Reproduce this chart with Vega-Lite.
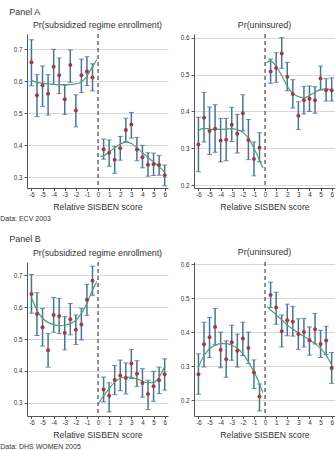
{
"$schema": "https://vega.github.io/schema/vega-lite/v6.json",
"padding": {"left": 0, "top": 7, "right": 0, "bottom": 0},
"config": {
  "font": "Liberation Sans",
  "view": {"stroke": null},
  "axis": {"labelFont": "Liberation Sans", "labelFontSize": 6.3, "labelColor": "#333333", "labelOverlap": false, "domainColor": "#555555", "tickColor": "#555555", "tickSize": 3, "labelPadding": 2, "gridColor": "#d9d9d9", "titleFont": "Liberation Sans", "titleFontSize": 8.7, "titleFontWeight": "normal", "titleColor": "#333333", "titlePadding": 5},
  "title": {"font": "Liberation Sans", "fontSize": 8.8, "fontWeight": "normal", "color": "#333333", "offset": 0}
},
"datasets": {
"pts": [
{"p":"A1","x":-6,"y":0.659,"lo":0.585,"hi":0.729},
{"p":"A1","x":-5.5,"y":0.556,"lo":0.489,"hi":0.620},
{"p":"A1","x":-5,"y":0.587,"lo":0.521,"hi":0.647},
{"p":"A1","x":-4.5,"y":0.560,"lo":0.494,"hi":0.620},
{"p":"A1","x":-4,"y":0.645,"lo":0.589,"hi":0.699},
{"p":"A1","x":-3.5,"y":0.618,"lo":0.561,"hi":0.672},
{"p":"A1","x":-3,"y":0.543,"lo":0.496,"hi":0.587},
{"p":"A1","x":-2.5,"y":0.650,"lo":0.596,"hi":0.697},
{"p":"A1","x":-2,"y":0.508,"lo":0.457,"hi":0.557},
{"p":"A1","x":-1.5,"y":0.618,"lo":0.564,"hi":0.669},
{"p":"A1","x":-1,"y":0.630,"lo":0.586,"hi":0.676},
{"p":"A1","x":-0.5,"y":0.611,"lo":0.569,"hi":0.654},
{"p":"A1","x":0.5,"y":0.387,"lo":0.356,"hi":0.419},
{"p":"A1","x":1,"y":0.376,"lo":0.334,"hi":0.416},
{"p":"A1","x":1.5,"y":0.354,"lo":0.312,"hi":0.396},
{"p":"A1","x":2,"y":0.390,"lo":0.353,"hi":0.427},
{"p":"A1","x":2.5,"y":0.447,"lo":0.411,"hi":0.484},
{"p":"A1","x":3,"y":0.464,"lo":0.422,"hi":0.502},
{"p":"A1","x":3.5,"y":0.386,"lo":0.351,"hi":0.424},
{"p":"A1","x":4,"y":0.362,"lo":0.329,"hi":0.399},
{"p":"A1","x":4.5,"y":0.339,"lo":0.303,"hi":0.376},
{"p":"A1","x":5,"y":0.340,"lo":0.305,"hi":0.375},
{"p":"A1","x":5.5,"y":0.338,"lo":0.306,"hi":0.368},
{"p":"A1","x":6,"y":0.306,"lo":0.273,"hi":0.338},
{"p":"A2","x":-6,"y":0.310,"lo":0.236,"hi":0.384},
{"p":"A2","x":-5.5,"y":0.383,"lo":0.317,"hi":0.451},
{"p":"A2","x":-5,"y":0.347,"lo":0.283,"hi":0.412},
{"p":"A2","x":-4.5,"y":0.353,"lo":0.289,"hi":0.418},
{"p":"A2","x":-4,"y":0.321,"lo":0.263,"hi":0.381},
{"p":"A2","x":-3.5,"y":0.323,"lo":0.266,"hi":0.381},
{"p":"A2","x":-3,"y":0.364,"lo":0.318,"hi":0.411},
{"p":"A2","x":-2.5,"y":0.339,"lo":0.287,"hi":0.392},
{"p":"A2","x":-2,"y":0.395,"lo":0.347,"hi":0.445},
{"p":"A2","x":-1.5,"y":0.322,"lo":0.269,"hi":0.378},
{"p":"A2","x":-1,"y":0.271,"lo":0.225,"hi":0.317},
{"p":"A2","x":-0.5,"y":0.301,"lo":0.263,"hi":0.342},
{"p":"A2","x":0.5,"y":0.508,"lo":0.476,"hi":0.542},
{"p":"A2","x":1,"y":0.518,"lo":0.479,"hi":0.559},
{"p":"A2","x":1.5,"y":0.557,"lo":0.517,"hi":0.600},
{"p":"A2","x":2,"y":0.494,"lo":0.456,"hi":0.533},
{"p":"A2","x":2.5,"y":0.447,"lo":0.409,"hi":0.486},
{"p":"A2","x":3,"y":0.388,"lo":0.351,"hi":0.426},
{"p":"A2","x":3.5,"y":0.430,"lo":0.393,"hi":0.468},
{"p":"A2","x":4,"y":0.434,"lo":0.400,"hi":0.469},
{"p":"A2","x":4.5,"y":0.430,"lo":0.395,"hi":0.467},
{"p":"A2","x":5,"y":0.489,"lo":0.458,"hi":0.523},
{"p":"A2","x":5.5,"y":0.457,"lo":0.428,"hi":0.489},
{"p":"A2","x":6,"y":0.457,"lo":0.428,"hi":0.491},
{"p":"B1","x":-6,"y":0.641,"lo":0.581,"hi":0.702},
{"p":"B1","x":-5.5,"y":0.578,"lo":0.511,"hi":0.645},
{"p":"B1","x":-5,"y":0.537,"lo":0.478,"hi":0.596},
{"p":"B1","x":-4.5,"y":0.465,"lo":0.412,"hi":0.517},
{"p":"B1","x":-4,"y":0.575,"lo":0.521,"hi":0.630},
{"p":"B1","x":-3.5,"y":0.572,"lo":0.517,"hi":0.627},
{"p":"B1","x":-3,"y":0.519,"lo":0.466,"hi":0.570},
{"p":"B1","x":-2.5,"y":0.562,"lo":0.513,"hi":0.611},
{"p":"B1","x":-2,"y":0.529,"lo":0.483,"hi":0.575},
{"p":"B1","x":-1.5,"y":0.545,"lo":0.497,"hi":0.596},
{"p":"B1","x":-1,"y":0.623,"lo":0.574,"hi":0.671},
{"p":"B1","x":-0.5,"y":0.682,"lo":0.637,"hi":0.728},
{"p":"B1","x":0.5,"y":0.342,"lo":0.303,"hi":0.381},
{"p":"B1","x":1,"y":0.322,"lo":0.272,"hi":0.363},
{"p":"B1","x":1.5,"y":0.372,"lo":0.326,"hi":0.417},
{"p":"B1","x":2,"y":0.386,"lo":0.338,"hi":0.434},
{"p":"B1","x":2.5,"y":0.378,"lo":0.328,"hi":0.425},
{"p":"B1","x":3,"y":0.423,"lo":0.376,"hi":0.467},
{"p":"B1","x":3.5,"y":0.391,"lo":0.351,"hi":0.432},
{"p":"B1","x":4,"y":0.362,"lo":0.318,"hi":0.407},
{"p":"B1","x":4.5,"y":0.328,"lo":0.279,"hi":0.371},
{"p":"B1","x":5,"y":0.352,"lo":0.305,"hi":0.399},
{"p":"B1","x":5.5,"y":0.371,"lo":0.329,"hi":0.412},
{"p":"B1","x":6,"y":0.390,"lo":0.340,"hi":0.438},
{"p":"B2","x":-6,"y":0.276,"lo":0.217,"hi":0.336},
{"p":"B2","x":-5.5,"y":0.364,"lo":0.297,"hi":0.429},
{"p":"B2","x":-5,"y":0.385,"lo":0.325,"hi":0.443},
{"p":"B2","x":-4.5,"y":0.415,"lo":0.362,"hi":0.469},
{"p":"B2","x":-4,"y":0.348,"lo":0.295,"hi":0.400},
{"p":"B2","x":-3.5,"y":0.320,"lo":0.267,"hi":0.374},
{"p":"B2","x":-3,"y":0.370,"lo":0.317,"hi":0.420},
{"p":"B2","x":-2.5,"y":0.345,"lo":0.297,"hi":0.394},
{"p":"B2","x":-2,"y":0.381,"lo":0.331,"hi":0.429},
{"p":"B2","x":-1.5,"y":0.353,"lo":0.307,"hi":0.400},
{"p":"B2","x":-1,"y":0.281,"lo":0.234,"hi":0.318},
{"p":"B2","x":-0.5,"y":0.210,"lo":0.168,"hi":0.247},
{"p":"B2","x":0.5,"y":0.509,"lo":0.472,"hi":0.547},
{"p":"B2","x":1,"y":0.472,"lo":0.423,"hi":0.517},
{"p":"B2","x":1.5,"y":0.402,"lo":0.356,"hi":0.450},
{"p":"B2","x":2,"y":0.435,"lo":0.389,"hi":0.482},
{"p":"B2","x":2.5,"y":0.430,"lo":0.388,"hi":0.475},
{"p":"B2","x":3,"y":0.394,"lo":0.349,"hi":0.439},
{"p":"B2","x":3.5,"y":0.400,"lo":0.356,"hi":0.440},
{"p":"B2","x":4,"y":0.376,"lo":0.332,"hi":0.415},
{"p":"B2","x":4.5,"y":0.408,"lo":0.365,"hi":0.455},
{"p":"B2","x":5,"y":0.365,"lo":0.325,"hi":0.405},
{"p":"B2","x":5.5,"y":0.375,"lo":0.334,"hi":0.417},
{"p":"B2","x":6,"y":0.294,"lo":0.249,"hi":0.340}
],
"fit": [
{"p":"A1","s":"L","x":-6,"y":0.602},{"p":"A1","s":"L","x":-5.5,"y":0.596},{"p":"A1","s":"L","x":-5,"y":0.593},{"p":"A1","s":"L","x":-4.5,"y":0.591},{"p":"A1","s":"L","x":-4,"y":0.590},{"p":"A1","s":"L","x":-3.5,"y":0.589},{"p":"A1","s":"L","x":-3,"y":0.589},{"p":"A1","s":"L","x":-2.5,"y":0.589},{"p":"A1","s":"L","x":-2,"y":0.591},{"p":"A1","s":"L","x":-1.5,"y":0.597},{"p":"A1","s":"L","x":-1,"y":0.615},{"p":"A1","s":"L","x":-0.5,"y":0.645},{"p":"A1","s":"L","x":-0.1,"y":0.667},
{"p":"A1","s":"R","x":0.2,"y":0.363},{"p":"A1","s":"R","x":0.5,"y":0.367},{"p":"A1","s":"R","x":1,"y":0.378},{"p":"A1","s":"R","x":1.5,"y":0.392},{"p":"A1","s":"R","x":2,"y":0.403},{"p":"A1","s":"R","x":2.5,"y":0.409},{"p":"A1","s":"R","x":3,"y":0.405},{"p":"A1","s":"R","x":3.5,"y":0.392},{"p":"A1","s":"R","x":4,"y":0.376},{"p":"A1","s":"R","x":4.5,"y":0.361},{"p":"A1","s":"R","x":5,"y":0.347},{"p":"A1","s":"R","x":5.5,"y":0.332},{"p":"A1","s":"R","x":6,"y":0.316},
{"p":"A2","s":"L","x":-6,"y":0.349},{"p":"A2","s":"L","x":-5.5,"y":0.354},{"p":"A2","s":"L","x":-5,"y":0.352},{"p":"A2","s":"L","x":-4.5,"y":0.351},{"p":"A2","s":"L","x":-4,"y":0.351},{"p":"A2","s":"L","x":-3.5,"y":0.352},{"p":"A2","s":"L","x":-3,"y":0.353},{"p":"A2","s":"L","x":-2.5,"y":0.350},{"p":"A2","s":"L","x":-2,"y":0.343},{"p":"A2","s":"L","x":-1.5,"y":0.327},{"p":"A2","s":"L","x":-1,"y":0.300},{"p":"A2","s":"L","x":-0.5,"y":0.268},{"p":"A2","s":"L","x":-0.2,"y":0.246},
{"p":"A2","s":"R","x":0.1,"y":0.532},{"p":"A2","s":"R","x":0.5,"y":0.537},{"p":"A2","s":"R","x":1,"y":0.522},{"p":"A2","s":"R","x":1.5,"y":0.497},{"p":"A2","s":"R","x":2,"y":0.468},{"p":"A2","s":"R","x":2.5,"y":0.449},{"p":"A2","s":"R","x":3,"y":0.440},{"p":"A2","s":"R","x":3.5,"y":0.437},{"p":"A2","s":"R","x":4,"y":0.443},{"p":"A2","s":"R","x":4.5,"y":0.452},{"p":"A2","s":"R","x":5,"y":0.459},{"p":"A2","s":"R","x":5.5,"y":0.461},{"p":"A2","s":"R","x":6,"y":0.458},
{"p":"B1","s":"L","x":-6,"y":0.630},{"p":"B1","s":"L","x":-5.5,"y":0.590},{"p":"B1","s":"L","x":-5,"y":0.565},{"p":"B1","s":"L","x":-4.5,"y":0.552},{"p":"B1","s":"L","x":-4,"y":0.545},{"p":"B1","s":"L","x":-3.5,"y":0.542},{"p":"B1","s":"L","x":-3,"y":0.543},{"p":"B1","s":"L","x":-2.5,"y":0.548},{"p":"B1","s":"L","x":-2,"y":0.559},{"p":"B1","s":"L","x":-1.5,"y":0.580},{"p":"B1","s":"L","x":-1,"y":0.612},{"p":"B1","s":"L","x":-0.5,"y":0.653},{"p":"B1","s":"L","x":-0.1,"y":0.680},
{"p":"B1","s":"R","x":0.1,"y":0.302},{"p":"B1","s":"R","x":0.5,"y":0.322},{"p":"B1","s":"R","x":1,"y":0.345},{"p":"B1","s":"R","x":1.5,"y":0.365},{"p":"B1","s":"R","x":2,"y":0.377},{"p":"B1","s":"R","x":2.5,"y":0.381},{"p":"B1","s":"R","x":3,"y":0.380},{"p":"B1","s":"R","x":3.5,"y":0.375},{"p":"B1","s":"R","x":4,"y":0.368},{"p":"B1","s":"R","x":4.5,"y":0.363},{"p":"B1","s":"R","x":5,"y":0.364},{"p":"B1","s":"R","x":5.5,"y":0.380},{"p":"B1","s":"R","x":6,"y":0.414},
{"p":"B2","s":"L","x":-6,"y":0.297},{"p":"B2","s":"L","x":-5.5,"y":0.331},{"p":"B2","s":"L","x":-5,"y":0.351},{"p":"B2","s":"L","x":-4.5,"y":0.361},{"p":"B2","s":"L","x":-4,"y":0.366},{"p":"B2","s":"L","x":-3.5,"y":0.366},{"p":"B2","s":"L","x":-3,"y":0.361},{"p":"B2","s":"L","x":-2.5,"y":0.352},{"p":"B2","s":"L","x":-2,"y":0.336},{"p":"B2","s":"L","x":-1.5,"y":0.312},{"p":"B2","s":"L","x":-1,"y":0.283},{"p":"B2","s":"L","x":-0.5,"y":0.248},{"p":"B2","s":"L","x":-0.2,"y":0.222},
{"p":"B2","s":"R","x":0.2,"y":0.474},{"p":"B2","s":"R","x":0.5,"y":0.465},{"p":"B2","s":"R","x":1,"y":0.451},{"p":"B2","s":"R","x":1.5,"y":0.436},{"p":"B2","s":"R","x":2,"y":0.421},{"p":"B2","s":"R","x":2.5,"y":0.408},{"p":"B2","s":"R","x":3,"y":0.397},{"p":"B2","s":"R","x":3.5,"y":0.387},{"p":"B2","s":"R","x":4,"y":0.377},{"p":"B2","s":"R","x":4.5,"y":0.366},{"p":"B2","s":"R","x":5,"y":0.352},{"p":"B2","s":"R","x":5.5,"y":0.332},{"p":"B2","s":"R","x":6,"y":0.303}
]
},
"spacing": 13,
"vconcat": [
{"title": {"text": "Data: ECV 2003", "orient": "bottom", "anchor": "start", "frame": "bounds", "fontSize": 7, "offset": 3, "dx": -9},
 "vconcat": [
 {"title": {"text": "Panel A", "anchor": "start", "frame": "bounds", "fontSize": 9, "offset": 4, "dx": -4},
  "bounds": "flush", "spacing": 26,
  "hconcat": [
  {"width": 141, "height": 154, "title": "Pr(subsidized regime enrollment)",
   "layer": [
    {"data": {"values": [{"z": 0}]}, "mark": {"type": "rule", "strokeDash": [4, 3], "color": "#222222", "strokeWidth": 1}, "encoding": {"x": {"field": "z", "type": "quantitative"}}},
    {"data": {"name": "pts"}, "transform": [{"filter": "datum.p === 'A1'"}], "mark": {"type": "errorbar", "ticks": {"size": 5, "color": "#2f5e88", "strokeWidth": 1.2}, "rule": {"color": "#4a7399", "strokeWidth": 1.5}},
     "encoding": {"x": {"field": "x", "type": "quantitative", "scale": {"domain": [-6.4, 6.3], "nice": false, "zero": false}, "axis": {"title": "Relative SISBEN score", "values": [-6,-5,-4,-3,-2,-1,0,1,2,3,4,5,6], "tickCount": 13, "labelOverlap": false, "grid": false, "labelExpr": "replace(datum.label, '\u2212', '-')", "tickSize": 2.5, "labelPadding": 1}},
      "y": {"field": "lo", "type": "quantitative", "scale": {"domain": [0.266, 0.747], "nice": false, "zero": false}, "axis": {"title": null, "values": [0.3, 0.4, 0.5, 0.6, 0.7], "tickCount": 5, "labelOverlap": false, "format": ".1f", "grid": true}}, "y2": {"field": "hi"}}},
    {"data": {"name": "fit"}, "transform": [{"filter": "datum.p === 'A1'"}], "mark": {"type": "line", "interpolate": "monotone", "color": "#4f9f6e", "strokeWidth": 1.2}, "encoding": {"x": {"field": "x", "type": "quantitative"}, "y": {"field": "y", "type": "quantitative"}, "detail": {"field": "s"}}},
    {"data": {"name": "pts"}, "transform": [{"filter": "datum.p === 'A1'"}], "mark": {"type": "circle", "color": "#a33b3b", "size": 16, "opacity": 1}, "encoding": {"x": {"field": "x", "type": "quantitative"}, "y": {"field": "y", "type": "quantitative"}}}
   ]},
  {"width": 141, "height": 154, "title": "Pr(uninsured)",
   "layer": [
    {"data": {"values": [{"z": 0}]}, "mark": {"type": "rule", "strokeDash": [4, 3], "color": "#222222", "strokeWidth": 1}, "encoding": {"x": {"field": "z", "type": "quantitative"}}},
    {"data": {"name": "pts"}, "transform": [{"filter": "datum.p === 'A2'"}], "mark": {"type": "errorbar", "ticks": {"size": 5, "color": "#2f5e88", "strokeWidth": 1.2}, "rule": {"color": "#4a7399", "strokeWidth": 1.5}},
     "encoding": {"x": {"field": "x", "type": "quantitative", "scale": {"domain": [-6.4, 6.3], "nice": false, "zero": false}, "axis": {"title": "Relative SISBEN score", "values": [-6,-5,-4,-3,-2,-1,0,1,2,3,4,5,6], "tickCount": 13, "labelOverlap": false, "grid": false, "labelExpr": "replace(datum.label, '\u2212', '-')", "tickSize": 2.5, "labelPadding": 1}},
      "y": {"field": "lo", "type": "quantitative", "scale": {"domain": [0.192, 0.610], "nice": false, "zero": false}, "axis": {"title": null, "values": [0.2, 0.3, 0.4, 0.5, 0.6], "tickCount": 5, "labelOverlap": false, "format": ".1f", "grid": true}}, "y2": {"field": "hi"}}},
    {"data": {"name": "fit"}, "transform": [{"filter": "datum.p === 'A2'"}], "mark": {"type": "line", "interpolate": "monotone", "color": "#4f9f6e", "strokeWidth": 1.2}, "encoding": {"x": {"field": "x", "type": "quantitative"}, "y": {"field": "y", "type": "quantitative"}, "detail": {"field": "s"}}},
    {"data": {"name": "pts"}, "transform": [{"filter": "datum.p === 'A2'"}], "mark": {"type": "circle", "color": "#a33b3b", "size": 16, "opacity": 1}, "encoding": {"x": {"field": "x", "type": "quantitative"}, "y": {"field": "y", "type": "quantitative"}}}
   ]}
  ]}
 ]},
{"title": {"text": "Data: DHS WOMEN 2005", "orient": "bottom", "anchor": "start", "frame": "bounds", "fontSize": 7, "offset": 3, "dx": -9},
 "vconcat": [
 {"title": {"text": "Panel B", "anchor": "start", "frame": "bounds", "fontSize": 9, "offset": 4, "dx": -4},
  "bounds": "flush", "spacing": 26,
  "hconcat": [
  {"width": 141, "height": 154, "title": "Pr(subsidized regime enrollment)",
   "layer": [
    {"data": {"values": [{"z": 0}]}, "mark": {"type": "rule", "strokeDash": [4, 3], "color": "#222222", "strokeWidth": 1}, "encoding": {"x": {"field": "z", "type": "quantitative"}}},
    {"data": {"name": "pts"}, "transform": [{"filter": "datum.p === 'B1'"}], "mark": {"type": "errorbar", "ticks": {"size": 5, "color": "#2f5e88", "strokeWidth": 1.2}, "rule": {"color": "#4a7399", "strokeWidth": 1.5}},
     "encoding": {"x": {"field": "x", "type": "quantitative", "scale": {"domain": [-6.4, 6.3], "nice": false, "zero": false}, "axis": {"title": "Relative SISBEN score", "values": [-6,-5,-4,-3,-2,-1,0,1,2,3,4,5,6], "tickCount": 13, "labelOverlap": false, "grid": false, "labelExpr": "replace(datum.label, '\u2212', '-')", "tickSize": 2.5, "labelPadding": 1}},
      "y": {"field": "lo", "type": "quantitative", "scale": {"domain": [0.259, 0.741], "nice": false, "zero": false}, "axis": {"title": null, "values": [0.3, 0.4, 0.5, 0.6, 0.7], "tickCount": 5, "labelOverlap": false, "format": ".1f", "grid": true}}, "y2": {"field": "hi"}}},
    {"data": {"name": "fit"}, "transform": [{"filter": "datum.p === 'B1'"}], "mark": {"type": "line", "interpolate": "monotone", "color": "#4f9f6e", "strokeWidth": 1.2}, "encoding": {"x": {"field": "x", "type": "quantitative"}, "y": {"field": "y", "type": "quantitative"}, "detail": {"field": "s"}}},
    {"data": {"name": "pts"}, "transform": [{"filter": "datum.p === 'B1'"}], "mark": {"type": "circle", "color": "#a33b3b", "size": 16, "opacity": 1}, "encoding": {"x": {"field": "x", "type": "quantitative"}, "y": {"field": "y", "type": "quantitative"}}}
   ]},
  {"width": 141, "height": 154, "title": "Pr(uninsured)",
   "layer": [
    {"data": {"values": [{"z": 0}]}, "mark": {"type": "rule", "strokeDash": [4, 3], "color": "#222222", "strokeWidth": 1}, "encoding": {"x": {"field": "z", "type": "quantitative"}}},
    {"data": {"name": "pts"}, "transform": [{"filter": "datum.p === 'B2'"}], "mark": {"type": "errorbar", "ticks": {"size": 5, "color": "#2f5e88", "strokeWidth": 1.2}, "rule": {"color": "#4a7399", "strokeWidth": 1.5}},
     "encoding": {"x": {"field": "x", "type": "quantitative", "scale": {"domain": [-6.4, 6.3], "nice": false, "zero": false}, "axis": {"title": "Relative SISBEN score", "values": [-6,-5,-4,-3,-2,-1,0,1,2,3,4,5,6], "tickCount": 13, "labelOverlap": false, "grid": false, "labelExpr": "replace(datum.label, '\u2212', '-')", "tickSize": 2.5, "labelPadding": 1}},
      "y": {"field": "lo", "type": "quantitative", "scale": {"domain": [0.153, 0.606], "nice": false, "zero": false}, "axis": {"title": null, "values": [0.2, 0.3, 0.4, 0.5, 0.6], "tickCount": 5, "labelOverlap": false, "format": ".1f", "grid": true}}, "y2": {"field": "hi"}}},
    {"data": {"name": "fit"}, "transform": [{"filter": "datum.p === 'B2'"}], "mark": {"type": "line", "interpolate": "monotone", "color": "#4f9f6e", "strokeWidth": 1.2}, "encoding": {"x": {"field": "x", "type": "quantitative"}, "y": {"field": "y", "type": "quantitative"}, "detail": {"field": "s"}}},
    {"data": {"name": "pts"}, "transform": [{"filter": "datum.p === 'B2'"}], "mark": {"type": "circle", "color": "#a33b3b", "size": 16, "opacity": 1}, "encoding": {"x": {"field": "x", "type": "quantitative"}, "y": {"field": "y", "type": "quantitative"}}}
   ]}
  ]}
 ]}
]
}
